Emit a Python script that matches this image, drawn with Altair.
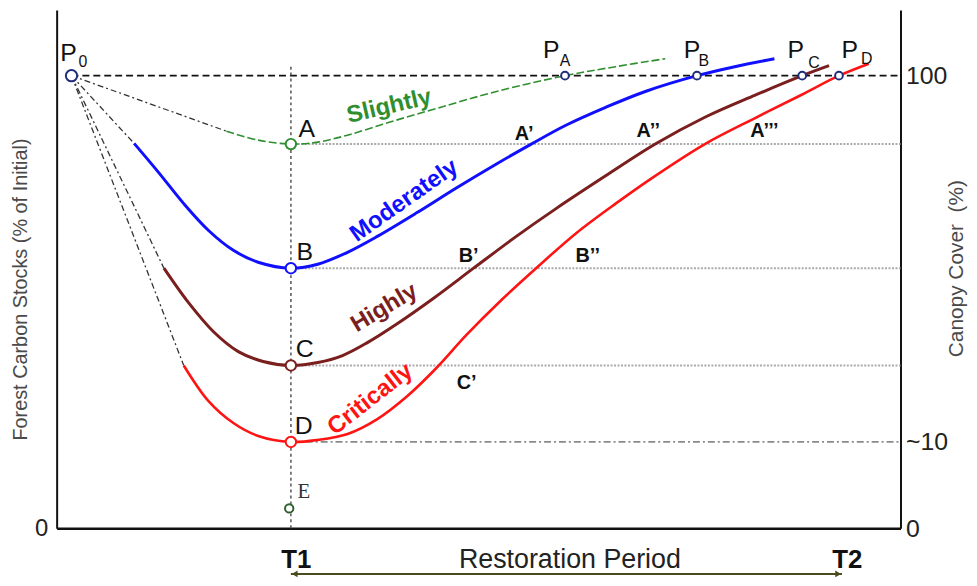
import altair as alt
import pandas as pd

# ---------------- data (x: time, 0-100 across the plot; y: carbon stock, % of initial) ----------------
T1 = 27.76
T2 = 93.06
P0_X, P0_Y = 1.76, 100.0

slight_x = [20.12, 23.88, 27.76, 30.94, 34.47, 39.41, 45.06, 52.12, 60.24, 66.24, 72.12]
slight_y = [87.74, 85.76, 84.89, 85.32, 86.86, 89.71, 92.78, 96.51, 100.0, 101.99, 103.75]

moderate_x = [9.18, 12.12, 15.06, 18.0, 20.94, 23.88, 27.76, 30.94, 34.47, 38.0, 42.71, 47.41,
              52.12, 56.24, 60.35, 65.06, 69.76, 75.88, 80.35, 85.06]
moderate_y = [85.04, 78.53, 71.73, 65.80, 61.42, 58.78, 57.47, 58.35, 60.98, 64.49, 69.75, 75.24,
              80.50, 84.89, 89.05, 93.0, 96.51, 100.0, 101.99, 103.75]

high_x = [12.71, 15.65, 18.59, 21.53, 24.47, 27.76, 30.94, 33.88, 36.82, 40.35, 44.71, 49.41,
          54.47, 59.18, 65.06, 70.94, 76.82, 82.71, 88.35, 91.53]
high_y = [57.47, 49.79, 43.43, 39.04, 36.85, 35.97, 36.63, 38.17, 41.02, 45.19, 50.89, 57.47,
          64.49, 70.63, 77.87, 84.89, 90.81, 95.64, 100.0, 102.21]

critical_x = [15.06, 18.0, 20.94, 23.88, 27.76, 30.94, 34.47, 38.0, 41.53, 45.06, 48.59, 52.71,
              56.82, 61.53, 66.24, 70.94, 76.82, 82.71, 88.35, 92.71, 96.24]
critical_y = [35.97, 28.08, 23.25, 20.40, 19.08, 19.52, 20.84, 24.13, 29.17, 35.53, 42.77, 50.45,
              57.47, 65.15, 71.73, 77.87, 84.89, 90.59, 95.85, 100.0, 102.65]

# stock levels reached at T1 (A-D) and the floor point E; recovery points P_A..P_D
level_names = ["A", "B", "C", "D", "E"]
level_y = [84.89, 57.47, 35.97, 19.08, 4.39]
recover_names = ["A", "B", "C", "D"]
recover_x = [60.24, 75.88, 88.35, 92.71]

# annotation positions (data units)
letter_x = [29.65, 29.41, 29.41, 29.29]
letter_y = [88.18, 60.98, 39.70, 22.59]
e_x, e_y = 29.29, 7.9
p_x = [1.41, 58.6, 75.3, 87.6, 94.0]
p_y = [105.1, 105.7, 105.7, 105.7, 105.7]
sub_text = ["0"] + recover_names
sub_x = [3.1, 60.24, 76.7, 89.76, 96.0]
sub_y = [103.1, 103.3, 103.3, 102.9, 103.75]

cross_labels = ["A\u2019", "A\u2019\u2019", "A\u2019\u2019\u2019", "B\u2019", "B\u2019\u2019", "C\u2019"]
cross_x = [55.41, 70.12, 83.88, 48.82, 62.94, 48.59]
cross_y = [87.08, 87.74, 87.74, 60.1, 60.1, 32.02]

class_names = ["Slightly", "Moderately", "Highly", "Critically"]
class_x = [39.4, 41.18, 38.82, 37.18]
class_y = [93.2, 72.38, 48.69, 28.51]
class_angle = [347, 325, 329, 322]

period_label = "Restoration Period"
period_x, period_y = 60.82, -7.0
arrow_y = -10.09

right_axis_values = [0, 19.08, 100]
bottom_axis_values = [T1, T2]

# ---------------- styling ----------------
FONT = "Liberation Sans"
X = alt.Scale(domain=[0, 100])
Y = alt.Scale(domain=[0, 114.5])
GREEN, BLUE, BROWN, RED, NAVY = "#2f8f2f", "#1010ff", "#7a1e1e", "#ff1414", "#1f2d7a"


def enc():
    return dict(x=alt.X("x:Q", scale=X, axis=None), y=alt.Y("y:Q", scale=Y, axis=None))


def df(**cols):
    return pd.DataFrame(cols)


layers = []

# axes carriers (invisible marks)
axdf = df(x=bottom_axis_values, y=[0, 100])
layers.append(
    alt.Chart(axdf).mark_point(opacity=0).encode(
        x=alt.X("x:Q", scale=X, axis=alt.Axis(
            orient="bottom", values=bottom_axis_values, title=None, ticks=False, grid=False,
            domainColor="#111", domainWidth=2.5, labelFont=FONT, labelFontSize=26,
            labelFontWeight="bold", labelColor="#111", labelPadding=19, labelOffset=5,
            labelExpr="datum.value < 50 ? 'T1' : 'T2'")),
        y=alt.Y("y:Q", scale=Y, axis=alt.Axis(
            orient="left", values=[0], title="Forest Carbon Stocks (% of Initial)", ticks=False,
            grid=False, domainColor="#111", domainWidth=2, labelFont=FONT, labelFontSize=24,
            labelColor="#222", labelPadding=9, titleFont=FONT, titleFontSize=20,
            titleFontWeight="normal", titleColor="#4a4a4a", titleAngle=270, titleX=-36, titleY=281,
            titleAlign="center", titleBaseline="middle")),
    )
)
layers.append(
    alt.Chart(axdf).mark_point(opacity=0).encode(
        x=alt.X("x:Q", scale=X, axis=None),
        y=alt.Y("y:Q", scale=Y, axis=alt.Axis(
            orient="right", values=right_axis_values, title="Canopy Cover\u00a0\u00a0(%)", ticks=False,
            grid=False, domainColor="#111", domainWidth=2, labelFont=FONT, labelFontSize=25,
            labelColor="#222", labelPadding=5,
            labelExpr="datum.value == 0 ? '0' : (datum.value > 50 ? '100' : '~10')",
            titleFont=FONT, titleFontSize=21, titleFontWeight="normal", titleColor="#4a4a4a",
            titleAngle=270, titleX=56, titleY=260, titleAlign="center", titleBaseline="middle")),
    )
)

# reference lines
layers.append(alt.Chart(df(x=[P0_X], x2=[100], y=[P0_Y])).mark_rule(
    color="#111", strokeWidth=1.8, strokeDash=[7, 4]).encode(x2="x2:Q", **enc()))
layers.append(alt.Chart(df(x=[T1] * 3, x2=[100] * 3, y=level_y[:3])).mark_rule(
    color="#aaaaaa", strokeWidth=2, strokeDash=[2, 1.5]).encode(x2="x2:Q", **enc()))
layers.append(alt.Chart(df(x=[T1], x2=[100], y=[level_y[3]])).mark_rule(
    color="#8a8a8a", strokeWidth=1.8, strokeDash=[7, 3, 2, 3]).encode(x2="x2:Q", **enc()))
layers.append(alt.Chart(df(x=[T1], y=[0], y2=[102])).mark_rule(
    color="#555", strokeWidth=1.5, strokeDash=[3, 3]).encode(y2="y2:Q", **enc()))

# dash-dot connectors from P0 to the start of each degradation path
conn = df(
    g=[0, 0, 1, 1, 2, 2, 3, 3],
    x=[P0_X, slight_x[0], P0_X, moderate_x[0], P0_X, high_x[0], P0_X, critical_x[0]],
    y=[P0_Y, slight_y[0], P0_Y, moderate_y[0], P0_Y, high_y[0], P0_Y, critical_y[0]],
)
layers.append(alt.Chart(conn).mark_line(color="#333", strokeWidth=1.3, strokeDash=[6, 3, 2, 3]).encode(
    detail="g:N", **enc()))

# curves
for xs, ys, col, w, dash in [
    (slight_x, slight_y, GREEN, 1.6, [8, 3]),
    (moderate_x, moderate_y, BLUE, 3, None),
    (high_x, high_y, BROWN, 3, None),
    (critical_x, critical_y, RED, 2.6, None),
]:
    kw = dict(color=col, strokeWidth=w, interpolate="catmull-rom")
    if dash:
        kw["strokeDash"] = dash
    layers.append(alt.Chart(df(x=xs, y=ys)).mark_line(**kw).encode(**enc()))

# arrow for the restoration period
ARROW = "#4b4b1e"
layers.append(alt.Chart(df(x=[T1], x2=[T2], y=[arrow_y])).mark_rule(
    color=ARROW, strokeWidth=2).encode(x2="x2:Q", **enc()))
layers.append(alt.Chart(df(x=[T1 + 0.45], y=[arrow_y])).mark_point(
    shape="triangle-left", filled=True, color=ARROW, size=45, opacity=1).encode(**enc()))
layers.append(alt.Chart(df(x=[T2 - 0.45], y=[arrow_y])).mark_point(
    shape="triangle-right", filled=True, color=ARROW, size=45, opacity=1).encode(**enc()))

# circles
pt_color = [GREEN, BLUE, BROWN, RED, "#2e5e2e"]
pt_size = [110, 110, 110, 110, 70]
for i in range(5):
    layers.append(alt.Chart(df(x=[T1 - (0.2 if i == 4 else 0)], y=[level_y[i]])).mark_point(
        shape="circle", filled=True, fill="white", stroke=pt_color[i], strokeWidth=2,
        size=pt_size[i], opacity=1).encode(**enc()))
layers.append(alt.Chart(df(x=[P0_X], y=[P0_Y])).mark_point(
    shape="circle", filled=True, fill="white", stroke=NAVY, strokeWidth=2, size=130,
    opacity=1).encode(**enc()))
layers.append(alt.Chart(df(x=recover_x, y=[100] * 4)).mark_point(
    shape="circle", filled=True, fill="white", stroke=NAVY, strokeWidth=2, size=60,
    opacity=1).encode(**enc()))

# letters A-D and E
layers.append(alt.Chart(df(t=level_names[:4], x=letter_x, y=letter_y)).mark_text(
    font=FONT, fontSize=25, color="#111", align="center", baseline="middle").encode(
    text="t:N", **enc()))
layers.append(alt.Chart(df(t=[level_names[4]], x=[e_x], y=[e_y])).mark_text(
    font="Liberation Serif", fontSize=21, color="#333", align="center", baseline="middle").encode(
    text="t:N", **enc()))

# P labels with subscripts
layers.append(alt.Chart(df(t=["P"] * 5, x=p_x, y=p_y)).mark_text(
    font=FONT, fontSize=25, color="#111", align="center", baseline="middle").encode(
    text="t:N", **enc()))
layers.append(alt.Chart(df(t=sub_text, x=sub_x, y=sub_y)).mark_text(
    font=FONT, fontSize=16, color="#111", align="center", baseline="middle").encode(
    text="t:N", **enc()))

# crossing labels
layers.append(alt.Chart(df(t=cross_labels, x=cross_x, y=cross_y)).mark_text(
    font=FONT, fontSize=20, fontWeight="bold", color="#111", align="center",
    baseline="middle").encode(text="t:N", **enc()))

# class labels
for name, cx, cy, ang, col in zip(class_names, class_x, class_y, class_angle, [GREEN, BLUE, BROWN, RED]):
    layers.append(alt.Chart(df(t=[name], x=[cx], y=[cy])).mark_text(
        font=FONT, fontSize=24, fontWeight="bold", color=col, angle=ang, align="center",
        baseline="middle").encode(text="t:N", **enc()))

# restoration period label
layers.append(alt.Chart(df(t=[period_label], x=[period_x], y=[period_y])).mark_text(
    font=FONT, fontSize=27, color="#222", align="center", baseline="middle").encode(
    text="t:N", **enc()))

chart = alt.layer(*layers).resolve_axis(x="independent", y="independent").properties(
    width=850, height=522,
    autosize=alt.AutoSizeParams(type="none"),
    padding={"left": 49, "top": 0, "right": 69, "bottom": 48},
).configure_view(stroke=None)

chart.save("out.html", embed_options={"renderer": "svg", "actions": False})
